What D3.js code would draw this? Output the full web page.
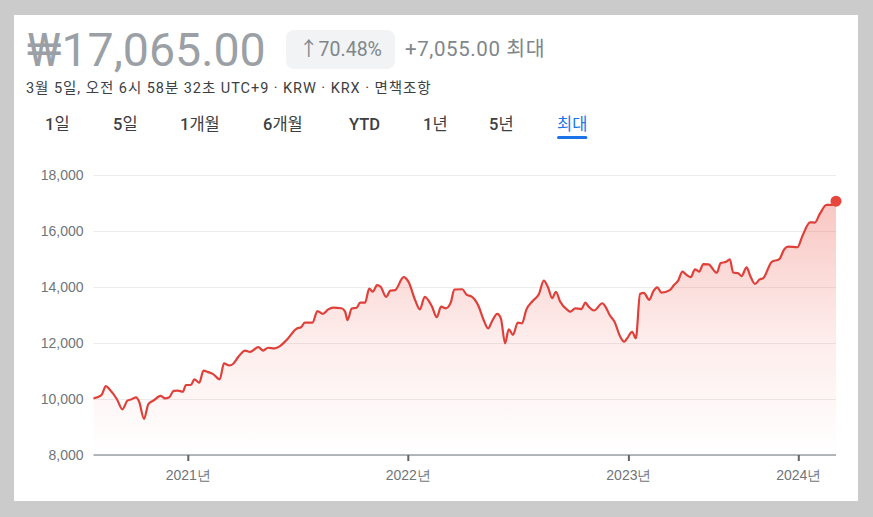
<!DOCTYPE html>
<html><head><meta charset="utf-8">
<script src="https://cdn.jsdelivr.net/npm/d3@7/dist/d3.min.js"></script>
<style>
html,body{margin:0;padding:0;background:#cbcbcb;}
svg{display:block;font-family:Roboto,"Noto Sans CJK KR",sans-serif;}
</style></head><body><svg id="c" width="873" height="517"></svg>
<script>
// ---------- data ----------
const dates = [
"2020-08-01","2020-08-14","2020-08-21","2020-08-28","2020-09-08","2020-09-17","2020-09-25","2020-10-02","2020-10-09","2020-10-14",
"2020-10-22","2020-10-29","2020-11-06","2020-11-18","2020-11-25","2020-12-02","2020-12-09","2020-12-16","2020-12-24","2020-12-29",
"2021-01-06","2021-01-12","2021-01-20","2021-01-27","2021-02-04","2021-02-12","2021-02-23","2021-03-02","2021-03-11","2021-03-17",
"2021-03-26","2021-04-06","2021-04-14","2021-04-28","2021-05-06","2021-05-14","2021-05-25","2021-06-03","2021-06-14","2021-07-01",
"2021-07-08","2021-07-14","2021-07-27","2021-08-04","2021-08-13","2021-08-22","2021-08-30","2021-09-13","2021-09-19","2021-09-23",
"2021-09-30","2021-10-08","2021-10-14","2021-10-22","2021-10-29","2021-11-04","2021-11-11","2021-11-17","2021-11-26","2021-12-03",
"2021-12-11","2021-12-25","2022-01-02","2022-01-13","2022-01-21","2022-01-29","2022-02-10","2022-02-18","2022-02-25","2022-03-05",
"2022-03-13","2022-03-19","2022-04-01","2022-04-09","2022-04-15","2022-04-28","2022-05-06","2022-05-14","2022-05-20","2022-05-29",
"2022-06-04","2022-06-11","2022-06-17","2022-06-24","2022-07-02","2022-07-09","2022-07-16","2022-07-27","2022-08-06","2022-08-14",
"2022-08-21","2022-08-28","2022-09-03","2022-09-10","2022-09-22","2022-09-27","2022-10-05","2022-10-15","2022-10-22","2022-10-27",
"2022-11-05","2022-11-19","2022-11-24","2022-12-01","2022-12-09","2022-12-18","2022-12-25","2022-12-30","2023-01-09","2023-01-17",
"2023-01-26","2023-02-03","2023-02-15","2023-02-23","2023-03-04","2023-03-13","2023-03-31","2023-04-09","2023-04-18","2023-04-27",
"2023-05-06","2023-05-15","2023-05-24","2023-06-02","2023-06-11","2023-06-22","2023-07-10","2023-07-18","2023-07-30","2023-08-07",
"2023-08-14","2023-08-25","2023-09-01","2023-09-12","2023-09-19","2023-09-30","2023-10-10","2023-10-18","2023-11-05","2023-11-21",
"2023-12-02","2023-12-10","2023-12-30","2024-01-08","2024-01-21","2024-01-29","2024-02-07","2024-02-18","2024-02-27","2024-03-05"
];
const prices = [
10025,10140,10460,10320,9990,9630,9940,9990,10060,9910,
9290,9820,9940,10110,10020,10060,10290,10300,10260,10500,
10500,10700,10580,11010,10960,10890,10700,11270,11200,11250,
11510,11730,11680,11850,11730,11830,11810,11890,12110,12520,
12560,12730,12730,13140,13040,13200,13260,13240,13120,12820,
13230,13260,13440,13440,13940,13830,14070,14010,13650,13870,
13890,14350,14190,13540,13200,13650,13300,12920,13300,13240,
13440,13910,13920,13710,13680,13320,12850,12520,12760,13040,
12880,11990,12490,12290,12730,12700,13180,13510,13750,14230,
13990,13600,13830,13480,13180,13120,13240,13210,13440,13300,
13160,13420,13300,13000,12760,12250,12050,12170,12400,12170,
13750,13790,13540,13830,13990,13800,13890,14070,14230,14550,
14430,14350,14630,14550,14820,14810,14510,14850,14900,14990,
14520,14490,14390,14700,14430,14110,14270,14320,14900,14990,
15350,15440,15420,15820,16310,16300,16630,16930,16930,17065
];
const yTicks = [8000,10000,12000,14000,16000,18000];
const yearTicks = ["2021-01-01","2022-01-01","2023-01-01","2024-01-01"];
const yearLabels = ["2021년","2022년","2023년","2024년"];
const headline = "₩17,065.00";
const changePct = "↑70.48%";
const changeAbs = "+7,055.00";
const periodLabel = "최대";
const subtitle = "3월 5일, 오전 6시 58분 32초 UTC+9 · KRW · KRX · 면책조항";
const tabs = ["1일","5일","1개월","6개월","YTD","1년","5년","최대"];
const activeTab = "최대";

// ---------- layout ----------
const W = 873, H = 517;
const L = 93.5, R = 836, T = 175, B = 455;
const tabX = [45,113,180,263,349,423,489,557];
const xFrac = [0, 0.127, 0.4233, 0.7204, 0.9492, 1];

const parse = d3.timeParse("%Y-%m-%d");
const data = dates.map((d,i)=>({date:parse(d), v:prices[i]}));

const svg = d3.select("#c");
svg.append("rect").attr("x",14).attr("y",15).attr("width",844).attr("height",486).attr("fill","#fff");

// header
svg.append("text").attr("x",27).attr("y",66).attr("font-size",46.5).attr("fill","#9aa0a6").text(headline);
svg.append("rect").attr("x",286).attr("y",30).attr("width",109).attr("height",39).attr("rx",8).attr("fill","#f1f3f4");
svg.append("text").attr("x",340.5).attr("y",56).attr("text-anchor","middle").attr("font-size",19.5).attr("fill","#80868b").text(changePct);
svg.append("text").attr("x",405).attr("y",56).attr("font-size",20.5).attr("fill","#80868b")
  .attr("letter-spacing",0.6).text(changeAbs + " " + periodLabel);
svg.append("text").attr("x",26).attr("y",93).attr("font-size",14.5).attr("fill","#3c4043")
  .attr("letter-spacing",0.95).text(subtitle);

const tabG = svg.append("g");
tabs.forEach((t,i)=>{
  const txt = tabG.append("text").attr("x",tabX[i]).attr("y",130).attr("font-size",16.5)
    .attr("fill", t===activeTab ? "#1a73e8" : "#3c4043");
  (t.match(/[A-Za-z0-9]+|[^A-Za-z0-9]+/g)).forEach(run=>{
    txt.append("tspan").attr("font-weight", /[A-Za-z0-9]/.test(run) ? 500 : 400).text(run);
  });
  if (t===activeTab){
    const w = txt.node().getComputedTextLength();
    tabG.append("rect").attr("x",tabX[i]).attr("y",136).attr("width",w).attr("height",3).attr("rx",1.5).attr("fill","#1a73e8");
  }
});

// scales
const xDomain = [data[0].date, ...yearTicks.map(parse), data[data.length-1].date];
const x = d3.scaleTime().domain(xDomain).range(xFrac.map(f=>L+f*(R-L)));
const y = d3.scaleLinear().domain([8000,18000]).range([B,T]);

// gridlines & y labels
const yAxis = d3.axisLeft(y).tickValues(yTicks).tickSize(-(R-L)).tickFormat(d3.format(","));
const gy = svg.append("g").attr("transform",`translate(${L},0)`).call(yAxis);
gy.select(".domain").remove();
gy.selectAll(".tick line").attr("stroke","#ececec").attr("stroke-width",1);
gy.selectAll(".tick text").attr("x",-10).attr("font-size",14).attr("fill","#70757a").attr("font-family",null);

// gradient area
const defs = svg.append("defs");
const grad = defs.append("linearGradient").attr("id","g").attr("gradientUnits","userSpaceOnUse")
  .attr("x1",0).attr("x2",0).attr("y1",y(17500)).attr("y2",B);
grad.append("stop").attr("offset",0).attr("stop-color","#ea4335").attr("stop-opacity",0.32);
grad.append("stop").attr("offset",0.55).attr("stop-color","#ea4335").attr("stop-opacity",0.1);
grad.append("stop").attr("offset",1).attr("stop-color","#ea4335").attr("stop-opacity",0.0);

const area = d3.area().x(d=>x(d.date)).y0(B).y1(d=>y(d.v)).curve(d3.curveMonotoneX);
svg.append("path").datum(data).attr("d",area).attr("fill","url(#g)");

const line = d3.line().x(d=>x(d.date)).y(d=>y(d.v)).curve(d3.curveMonotoneX);
svg.append("path").datum(data).attr("d",line).attr("fill","none").attr("stroke","#e0403a")
  .attr("stroke-width",2.2).attr("stroke-linejoin","round");

// x axis
const xAxis = d3.axisBottom(x).tickValues(yearTicks.map(parse)).tickSize(6).tickPadding(9)
  .tickFormat((d,i)=>yearLabels[i]);
const gx = svg.append("g").attr("transform",`translate(0,${B})`).call(xAxis);
gx.select(".domain").attr("d",`M${L},0H${R}`).attr("stroke","#9aa0a6").attr("stroke-width",1.5);
gx.selectAll(".tick line").attr("stroke","#5f6368").attr("stroke-width",2);
gx.selectAll(".tick text").attr("font-size",14).attr("fill","#70757a").attr("font-family",null);

// end dot
const last = data[data.length-1];
svg.append("circle").attr("cx",x(last.date)).attr("cy",y(last.v)).attr("r",5.5).attr("fill","#e8453c");
</script></body></html>
